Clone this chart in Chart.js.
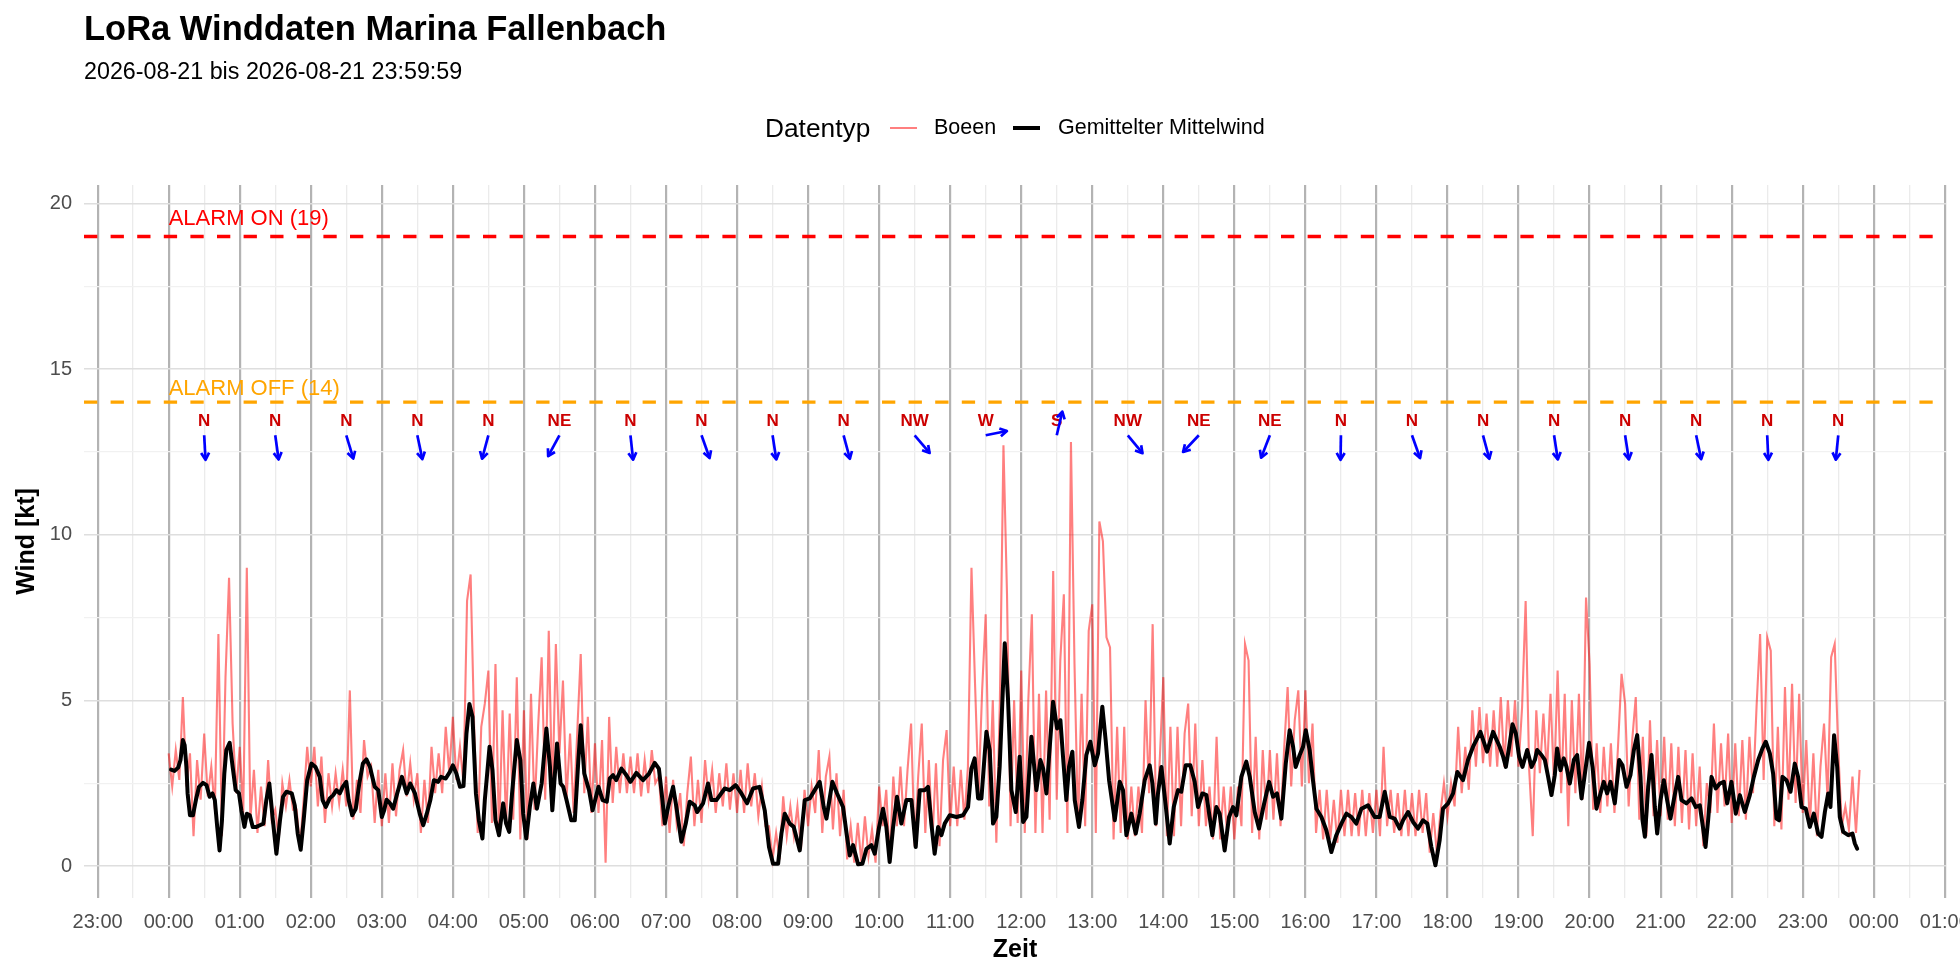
<!DOCTYPE html>
<html lang="de">
<head>
<meta charset="utf-8">
<title>LoRa Winddaten Marina Fallenbach</title>
<script src="https://cdn.jsdelivr.net/npm/chart.js@4.4.1/dist/chart.umd.min.js"></script>
<style>
  html, body { margin: 0; padding: 0; background: #fff; }
  body {
    width: 1960px; height: 980px; position: relative; overflow: hidden;
    font-family: "Liberation Sans", Arial, Helvetica, sans-serif; color: #000;
  }
  #chart { position: absolute; left: 0; top: 0; }
  .txt { position: absolute; line-height: 1; white-space: nowrap; }
  .key { position: absolute; }
</style>
</head>
<body>
<canvas id="chart" width="1960" height="980"></canvas>

<div class="txt" style="left:84px; top:11px; font-size:34.5px; font-weight:bold;">LoRa Winddaten Marina Fallenbach</div>
<div class="txt" style="left:84px; top:60px; font-size:23.3px;">2026-08-21 bis 2026-08-21 23:59:59</div>

<div class="txt" style="left:765px; top:115px; font-size:26.3px;">Datentyp</div>
<div class="key" style="left:890px; top:127px; width:27px; height:2px; background:rgba(255,0,0,0.5);"></div>
<div class="txt" style="left:934px; top:117px; font-size:21.5px;">Boeen</div>
<div class="key" style="left:1013px; top:126px; width:27px; height:4px; background:#000;"></div>
<div class="txt" style="left:1058px; top:117px; font-size:21.5px;">Gemittelter Mittelwind</div>

<script>
// Böen: ein Wert alle 3 Minuten ab 00:00 (kt)
const GUST_STEP_MIN = 3;
const GUST_KT = [
  3.4,2.4,3.5,2.6,5.1,2.4,3.4,0.9,3.2,2.0,4.0,2.1,3.0,1.7,7.0,0.9,5.7,8.7,4.3,2.2,
  3.6,1.6,9.0,1.4,2.9,1.0,2.4,1.2,3.2,1.4,1.7,0.8,2.5,1.8,2.6,1.7,1.7,0.6,2.0,3.6,
  2.4,3.6,1.8,3.3,1.3,2.8,1.8,2.8,1.9,2.9,1.8,5.3,1.4,2.6,1.6,3.8,2.7,3.0,1.3,2.9,
  1.2,2.8,1.3,3.1,1.5,2.9,3.5,2.1,3.1,2.0,2.8,1.0,2.6,1.3,3.6,2.2,3.4,2.2,4.2,2.8,
  4.5,2.6,3.6,2.5,8.0,8.8,4.2,1.0,4.2,4.9,5.9,1.3,6.1,0.9,4.7,1.2,4.6,1.4,5.7,0.8,
  4.7,0.8,5.2,1.7,4.2,6.3,2.0,7.1,2.0,6.7,3.4,5.6,2.0,4.0,1.6,4.0,6.4,2.2,4.5,1.6,
  3.7,1.6,3.8,0.1,4.5,1.9,3.6,2.2,3.4,2.2,3.3,2.2,3.4,2.1,3.2,2.2,3.5,2.5,2.7,1.2,
  2.7,1.0,2.6,1.3,2.2,0.6,2.2,3.3,1.2,2.6,1.3,3.2,2.0,2.9,1.6,2.8,1.8,3.1,1.7,2.8,
  1.6,2.9,1.6,3.1,1.8,2.8,1.5,2.4,1.2,1.2,0.2,1.0,0.2,2.1,0.9,1.8,0.9,1.8,0.5,2.3,
  1.2,2.4,1.6,3.5,1.0,2.7,3.3,1.1,2.8,0.9,2.3,0.2,1.2,0.1,1.3,0.1,1.5,0.3,1.1,0.1,
  2.4,1.2,2.3,0.2,2.7,1.2,3.0,1.2,2.9,4.3,0.6,2.7,4.3,1.0,3.2,0.8,3.1,0.6,3.2,4.1,
  1.2,3.0,1.2,2.9,1.4,3.0,9.0,5.5,2.2,5.3,7.6,1.8,5.0,0.7,5.0,12.7,8.2,1.2,5.0,1.3,
  5.9,1.0,5.0,7.6,1.0,5.2,1.0,5.3,1.4,8.9,2.0,6.2,8.2,1.0,12.8,6.1,1.2,5.2,1.2,7.1,
  7.9,1.0,10.4,9.8,6.9,6.6,0.8,4.2,1.0,4.2,0.8,2.4,0.9,2.4,1.0,5.0,2.2,7.3,1.2,3.2,
  5.7,0.9,4.2,0.9,4.2,1.2,4.0,4.9,1.5,4.3,1.2,3.2,1.2,2.4,0.8,3.9,0.8,2.4,0.9,2.4,
  0.8,2.4,1.2,6.7,6.2,1.0,3.9,0.8,3.5,1.4,3.5,1.4,3.4,1.2,3.5,5.4,2.4,4.4,5.3,2.4,
  5.3,2.5,4.3,1.0,2.3,0.8,2.3,0.8,2.0,0.7,2.3,0.9,2.3,0.9,2.2,0.9,2.3,0.9,2.2,1.0,
  2.3,0.9,3.6,1.2,2.3,1.0,2.2,0.9,2.3,0.9,2.2,0.9,2.3,1.0,2.2,0.4,1.6,0.4,1.6,2.5,
  1.5,2.5,1.8,4.2,2.2,3.6,2.3,4.7,3.0,4.8,3.1,4.6,3.0,4.7,3.0,5.1,3.0,5.0,3.3,5.0,
  3.0,4.8,8.0,2.9,0.9,4.7,2.8,4.6,2.8,5.2,2.4,5.9,2.2,5.2,1.2,5.0,2.2,5.2,2.0,8.1,
  6.1,1.7,3.7,1.6,3.6,1.8,3.7,1.6,3.6,5.8,4.9,1.8,3.8,5.1,1.4,3.9,0.9,4.4,1.5,3.8,
  1.5,3.9,1.4,3.7,1.2,3.6,1.3,3.5,1.1,3.4,1.2,3.0,0.6,2.5,1.6,4.3,1.6,3.7,1.8,4.0,
  1.3,3.7,1.5,3.8,1.4,3.9,2.2,4.8,7.0,2.6,6.9,6.5,1.2,4.2,1.1,5.4,2.0,5.5,1.9,5.2,
  1.6,3.8,1.2,3.4,0.9,3.0,4.3,2.0,6.3,6.7,3.5,1.2,1.8,1.1,2.7,1.0,2.9
];

// Gemittelter Mittelwind: Minuten ab 00:00 und Wert (kt)
const MEAN_MIN = [
  2,5,8,10,12,13.5,15,16,18,20.5,
  23,25.6,29,32,34.6,37,39,41,43,45,
  47,48.7,51.5,54,56.6,59.4,61.4,64,66,68.5,
  71,74,77,80,82.5,85,88,91,94,96.6,
  99.4,104,106.5,109,111.5,114,117,120.6,124,127.6,
  130,132.7,136,139,141.7,144.5,147,150,152,155,
  158,161,164,167,170,174,177,180,182,184,
  187,189.6,193,197,201,204,208,212,215,218,
  221,224,227.6,230,234,237.5,240,243,246,249,
  251.5,254,256.6,259.5,262,265,267,271,273.5,276,
  279,282.5,285,287.6,290,294,297,299.4,302,305,
  308,311,315,319,322,324,328,331,333.2,336,
  340,343,346,348,351,355,358,363,366.5,370,
  372.5,375.3,378,382.4,386.6,390,395,400.6,405.7,410.5,
  414,417,419,421.8,426,428.8,433,436.7,440,444.3,
  446.3,451.3,455.5,458.4,462.6,469.6,473.8,478.9,483.7,488.5,
  493.5,499,503.4,507,510.4,514.7,517.5,520.3,524.5,527.9,
  533,537.2,541.4,545.6,549.8,553.2,555.5,560.5,564.5,569.5,
  572.9,575.2,578,582.2,585.9,589.3,593.5,596.3,600,603.3,
  606.1,608.9,611.8,615.1,618.8,623,627.3,630.9,634.3,638.5,
  641.3,644.1,646.9,649.8,652.6,655.4,659.6,665.3,670.9,675.1,
  677.9,680.7,683.6,686.4,690.6,693.4,696.2,699,701.8,706.1,
  708.9,711.7,715.4,718.7,721.6,724.4,728.6,732.8,736.2,738.5,
  741.3,743.5,746.9,750.3,753.1,
  755.3,758.1,760.4,763.2,765.2,768.8,771.6,775,778.4,782.1,
  784.9,788.5,791.3,794.2,799,803.2,806,808.8,813,816.7,
  820,824.3,828.5,830.8,833.6,835.5,838.4,842,845.4,848.8,
  852.4,855.2,858.9,862.8,866.5,869.3,873,876.4,881.4,884.8,
  887.6,891.8,895.5,898.9,901.7,905.9,910.1,913,917.2,920.8,
  924.2,929.3,932.7,936,939.7,943.4,946.7,949.6,951.8,955.2,
  958,960.3,963.6,966.4,969.3,973.5,977.7,981.9,986.1,990.4,
  994.6,998.8,1003,1007.3,1012.9,1018.5,1022.7,1027,1031.2,1035.4,
  1039.6,1042.5,1046.7,1050.9,1055.1,1059.3,1063,1066.4,1069.8,1073.4,
  1076.2,1080.5,1084.7,1088.3,1093.1,1097.3,1101.6,1107.8,1113.4,1118.5,
  1124.1,
  1127,1129.3,1132.1,1134.9,1137.7,1140.5,1143.3,1147.3,1151,1153.8,
  1155.7,1159.4,1162.2,1165,1167.8,1170.6,1172.6,1175.4,1178.2,1180.5,
  1183.3,1186.7,1189.5,1193.2,1196.8,1199.6,1202.5,1205.8,1209.2,1212,
  1214.8,1217.7,1221.3,1225,1227.8,1231.2,1234.5,1237.4,1240.2,1243,
  1244.7,1246.7,1249.5,1252.3,1255.1,1257.1,1259.9,1262.7,1265.5,1268.3,
  1271.1,1274.8,1277.6,1281.8,1286.1,1289.7,1293.1,1295.9,1297.9,1300.1,
  1303,1306.6,1310,1313.4,1316.2,1319.8,1323.5,1326.9,1331.1,1335.3,
  1338.7,1342.4,1346,1348.8,1352.2,1355,1357.8,1360.1,1362.9,1366.3,
  1369.7,1373.3,1376.1,1379,1382.6,1386,1389.4,1393,1395.9,1398.7,
  1401.5,1403.4,1406.5,1409.1,1411.3,1414.2,1418.4,1422,1424,1426
];
const MEAN_KT = [
  2.91,2.87,2.97,3.2,3.8,3.65,3.0,2.19,1.53,1.53,
  1.99,2.39,2.51,2.44,2.09,2.19,1.99,1.18,0.47,1.38,
  2.79,3.5,3.72,3.0,2.29,2.19,1.68,1.18,1.58,1.53,
  1.18,1.18,1.23,1.28,1.99,2.49,1.38,0.37,1.38,2.09,
  2.24,2.19,1.83,0.98,0.49,1.38,2.59,3.09,2.99,2.69,
  1.99,1.78,2.04,2.14,2.29,2.19,2.39,2.54,1.99,1.53,
  1.73,2.49,3.09,3.22,2.99,2.39,2.29,1.48,1.68,2.0,
  1.89,1.73,2.19,2.69,2.19,2.49,2.19,1.58,1.23,1.58,
  1.99,2.59,2.54,2.69,2.64,2.84,3.04,2.79,2.39,2.41,
  4.0,4.89,4.5,2.19,1.38,0.83,1.99,3.6,2.89,1.38,
  0.93,1.89,1.28,1.03,2.19,3.8,3.2,1.58,0.83,1.78,
  2.49,1.73,2.49,4.15,3.0,1.68,3.7,2.49,2.39,1.99,
  1.38,1.38,3.2,4.25,2.79,2.29,1.68,2.39,1.99,1.94,
  2.64,2.74,2.59,2.94,2.74,2.54,2.81,2.59,2.79,3.11,
  2.94,1.99,1.28,1.78,2.39,1.78,0.73,1.28,1.94,1.83,
  1.63,1.89,2.49,1.99,1.99,2.34,2.29,2.44,2.19,1.89,
  2.34,2.39,1.68,0.57,0.07,0.07,0.98,1.58,1.28,1.18,
  0.47,1.99,2.04,2.29,2.54,1.78,1.43,2.54,2.19,1.78,
  0.88,0.32,0.63,0.05,0.07,0.52,0.63,0.37,1.18,1.73,
  1.18,0.12,1.18,2.09,1.28,1.99,1.99,0.57,2.29,2.29,
  2.39,1.28,0.37,1.18,0.93,1.28,1.53,1.48,1.53,1.78,
  2.94,3.25,2.04,2.04,4.05,3.5,1.28,1.48,2.99,6.72,
  5.01,2.29,1.63,3.3,1.33,1.48,3.9,2.29,3.2,2.94,
  2.19,3.3,4.96,4.15,4.4,
  3.3,1.99,3.0,3.45,1.99,1.18,1.99,3.35,3.75,3.04,
  3.4,4.81,3.8,2.59,1.38,2.54,2.29,0.93,1.58,0.98,
  1.58,2.59,3.04,2.49,1.28,2.19,2.99,1.83,0.68,1.78,
  2.29,2.24,3.04,3.04,2.54,1.78,2.19,2.14,0.93,1.78,
  1.58,0.47,1.48,1.78,1.53,2.69,3.15,2.69,1.63,1.13,
  1.73,2.54,2.09,2.19,1.43,3.09,4.1,3.6,2.99,3.35,
  3.6,4.1,3.5,2.59,1.73,1.48,1.08,0.42,0.93,1.28,
  1.58,1.48,1.28,1.73,1.83,1.48,1.48,2.24,1.48,1.43,
  1.13,1.38,1.63,1.33,1.13,1.38,1.28,0.57,0.02,0.78,
  1.73,1.89,2.19,2.84,2.59,3.2,3.6,4.05,3.45,4.05,
  3.6,
  3.3,2.99,3.6,4.28,4.0,3.3,2.99,3.5,2.99,3.2,
  3.5,3.35,3.2,2.69,2.14,2.74,3.55,2.89,3.25,2.99,
  2.49,3.2,3.35,2.04,2.99,3.72,2.99,1.73,2.19,2.54,
  2.19,2.54,1.89,3.2,3.04,2.39,2.74,3.5,3.95,2.69,
  1.38,0.88,2.39,3.35,1.78,0.98,1.99,2.59,1.99,1.43,
  1.99,2.69,1.99,1.89,2.04,1.78,1.83,1.13,0.57,1.38,
  2.69,2.34,2.49,2.54,1.89,2.54,1.58,2.14,1.63,2.14,
  2.69,3.2,3.55,3.75,3.4,2.79,1.43,1.38,2.69,2.59,
  2.24,3.09,2.69,1.78,1.73,1.18,1.58,0.98,0.88,1.63,
  2.19,1.78,3.95,2.99,1.48,1.03,0.93,0.98,0.68,0.52
];

// Alarmschwellen (kt)
const ALARM_ON_KT = 19;
const ALARM_OFF_KT = 14;

// Windrichtung je halbe Stunde (Minuten ab 00:00, Herkunft in Grad)
const DIR_MIN = [30,90,150,210,270,330,390,450,510,570,630,690,750,810,870,930,990,1050,1110,1170,1230,1290,1350,1410];
const DIR_LABELS = ["N","N","N","N","N","NE","N","N","N","N","NW","W","S","NW","NE","NE","N","N","N","N","N","N","N","N"];
const DIR_DEG = [356.5,351,341,346.5,17,31.5,353,338,350,343,316,260,195,317,47,24,1,338,343,350,350,346.5,357,6.5];

// Achsen
const HOUR_LABELS = ["23:00","00:00","01:00","02:00","03:00","04:00","05:00","06:00","07:00","08:00","09:00",
  "10:00","11:00","12:00","13:00","14:00","15:00","16:00","17:00","18:00","19:00","20:00","21:00",
  "22:00","23:00","00:00","01:00"];
const Y_TICKS = [0, 2.5, 5, 7.5, 10, 12.5, 15, 17.5, 20];

const X_MIN = -71.5, X_MAX = 1501;
const Y_MIN = -0.966, Y_MAX = 20.555;
const FONT = "'Liberation Sans', Arial, Helvetica, sans-serif";

const X_TICKS = [];
HOUR_LABELS.forEach((_, i) => {
  X_TICKS.push((i - 1) * 60);
  if (i < HOUR_LABELS.length - 1) X_TICKS.push((i - 1) * 60 + 30);
});

function drawArrow(ctx, x0, y0, x1, y1) {
  const a = Math.atan2(y1 - y0, x1 - x0);
  const h = 8, spread = Math.PI / 6;
  ctx.beginPath();
  ctx.moveTo(x0, y0);
  ctx.lineTo(x1, y1);
  ctx.stroke();
  ctx.beginPath();
  ctx.moveTo(x1 - h * Math.cos(a - spread), y1 - h * Math.sin(a - spread));
  ctx.lineTo(x1, y1);
  ctx.lineTo(x1 - h * Math.cos(a + spread), y1 - h * Math.sin(a + spread));
  ctx.stroke();
}

const windAnnotations = {
  id: "windAnnotations",
  afterDatasetsDraw(chart) {
    const { ctx, scales: { x, y } } = chart;
    ctx.save();

    ctx.font = "22px " + FONT;
    ctx.textAlign = "left";
    ctx.textBaseline = "middle";
    ctx.fillStyle = "#FF0000";
    ctx.fillText(`ALARM ON (${ALARM_ON_KT})`, x.getPixelForValue(0), y.getPixelForValue(ALARM_ON_KT + 0.52));
    ctx.fillStyle = "#FFA500";
    ctx.fillText(`ALARM OFF (${ALARM_OFF_KT})`, x.getPixelForValue(0), y.getPixelForValue(ALARM_OFF_KT + 0.4));

    ctx.strokeStyle = "#0000FF";
    ctx.lineWidth = 2.7;
    ctx.lineJoin = "round";
    ctx.lineCap = "butt";
    DIR_MIN.forEach((t, i) => {
      const px = x.getPixelForValue(t);
      ctx.font = "bold 17px " + FONT;
      ctx.textAlign = "center";
      ctx.fillStyle = "#CC0000";
      ctx.fillText(DIR_LABELS[i], px, y.getPixelForValue(13.43));

      const to = (DIR_DEG[i] + 180) * Math.PI / 180;
      const x1 = x.getPixelForValue(t + 18.2 * Math.sin(to));
      const y1 = y.getPixelForValue(13.0 + 0.74 * Math.cos(to));
      drawArrow(ctx, px, y.getPixelForValue(13.0), x1, y1);
    });
    ctx.restore();
  }
};

Chart.defaults.font.family = FONT;

new Chart(document.getElementById("chart"), {
  type: "line",
  data: {
    datasets: [
      {
        label: "Gemittelter Mittelwind",
        data: MEAN_MIN.map((t, i) => ({ x: t, y: MEAN_KT[i] })),
        borderColor: "#000000",
        borderWidth: 4,
        borderJoinStyle: "round",
        borderCapStyle: "round",
        pointRadius: 0,
        order: 1
      },
      {
        label: "Boeen",
        data: GUST_KT.map((v, i) => ({ x: i * GUST_STEP_MIN, y: v })),
        borderColor: "rgba(255,0,0,0.5)",
        borderWidth: 2.1,
        pointRadius: 0,
        order: 2
      },
      {
        label: "ALARM ON",
        data: [{ x: X_MIN, y: ALARM_ON_KT }, { x: X_MAX, y: ALARM_ON_KT }],
        borderColor: "#FF0000",
        borderWidth: 3.3,
        borderDash: [13.3, 13.3],
        pointRadius: 0,
        order: 0
      },
      {
        label: "ALARM OFF",
        data: [{ x: X_MIN, y: ALARM_OFF_KT }, { x: X_MAX, y: ALARM_OFF_KT }],
        borderColor: "#FFA500",
        borderWidth: 3.3,
        borderDash: [13.3, 13.3],
        pointRadius: 0,
        order: 0
      }
    ]
  },
  options: {
    responsive: false,
    devicePixelRatio: 1,
    animation: false,
    events: [],
    layout: { padding: { top: 185, right: 14, bottom: 0, left: 0 } },
    plugins: { legend: { display: false }, tooltip: { enabled: false } },
    scales: {
      x: {
        type: "linear",
        min: X_MIN,
        max: X_MAX,
        afterBuildTicks: (axis) => { axis.ticks = X_TICKS.map((v) => ({ value: v })); },
        afterFit: (axis) => { axis.height = 82; axis.paddingLeft = 0; axis.paddingRight = 0; },
        ticks: {
          autoSkip: false,
          maxRotation: 0,
          minRotation: 0,
          padding: 12,
          color: "#4D4D4D",
          font: { size: 20 },
          callback: (v) => (v % 60 === 0 ? HOUR_LABELS[v / 60 + 1] : "")
        },
        grid: {
          drawTicks: false,
          color: (c) => (c.tick && c.tick.value % 60 === 0 ? "#B3B3B3" : "#EBEBEB"),
          lineWidth: (c) => (c.tick && c.tick.value % 60 === 0 ? 2.2 : 1.3)
        },
        border: { display: false },
        title: {
          display: true,
          text: "Zeit",
          color: "#000",
          font: { size: 25, weight: "bold" },
          padding: { top: 0, bottom: 15 }
        }
      },
      y: {
        type: "linear",
        min: Y_MIN,
        max: Y_MAX,
        afterBuildTicks: (axis) => { axis.ticks = Y_TICKS.map((v) => ({ value: v })); },
        afterFit: (axis) => { axis.width = 84; axis.paddingTop = 0; axis.paddingBottom = 0; },
        ticks: {
          autoSkip: false,
          padding: 12,
          color: "#4D4D4D",
          font: { size: 20 },
          callback: (v) => (v % 5 === 0 ? String(v) : "")
        },
        grid: {
          drawTicks: false,
          color: (c) => (c.tick && c.tick.value % 5 === 0 ? "#DEDEDE" : "#F1F1F1"),
          lineWidth: (c) => (c.tick && c.tick.value % 5 === 0 ? 1.6 : 1.2)
        },
        border: { display: false },
        title: {
          display: true,
          text: "Wind [kt]",
          color: "#000",
          font: { size: 25, weight: "bold" },
          padding: { top: 12, bottom: 0 }
        }
      }
    }
  },
  plugins: [windAnnotations]
});
</script>
</body>
</html>
